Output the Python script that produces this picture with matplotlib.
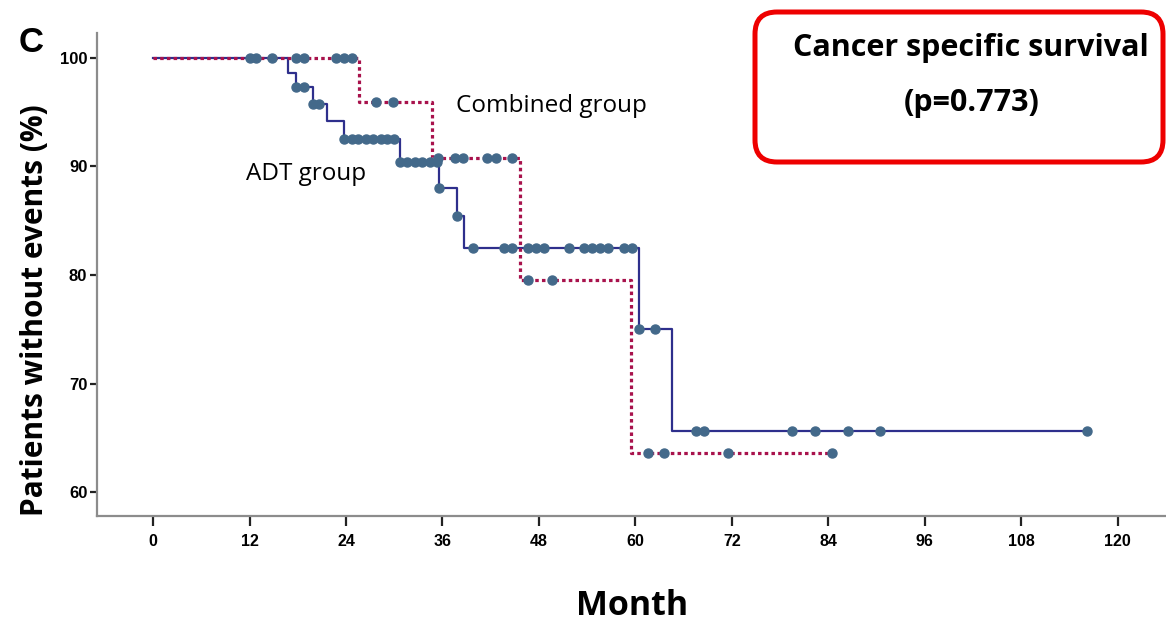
#!/usr/bin/env python3
"""
km_css.py - Kaplan-Meier curves for cancer specific survival,
ADT group versus combined group, with censoring marks.
"""

import numpy as np
import matplotlib
matplotlib.use("Agg")
import matplotlib.pyplot as plt
from matplotlib.patches import FancyBboxPatch


# ADT group: event times (months) and survival (%) after each step
ADT_TIME = [0, 16.85, 17.8, 19.9, 21.7, 23.8, 30.7, 35.6, 37.8, 38.7, 60.5, 64.5]
ADT_SURV = [100, 98.6, 97.3, 95.8, 94.2, 92.5, 90.4, 88.0, 85.4, 82.5, 75.0, 65.6]
ADT_END = 116.2
ADT_CENSORED = [
    12.0, 14.8, 17.8, 18.8, 19.9, 20.7,
    23.8, 24.7, 25.5, 26.5, 27.4, 28.3, 29.1, 30.0,
    30.7, 31.6, 32.6, 33.5, 34.4, 35.3, 35.6, 37.8,
    39.8, 43.7, 44.7, 46.6, 47.6, 48.6, 51.7, 53.6, 54.6, 55.6, 56.6, 58.6, 59.6,
    60.5, 62.5, 67.5, 68.5, 79.5, 82.4, 86.4, 90.4, 116.2,
]

# Combined group
COMB_TIME = [0, 25.6, 34.7, 45.7, 59.5]
COMB_SURV = [100, 95.9, 90.8, 79.5, 63.6]
COMB_END = 84.4
COMB_CENSORED = [
    12.8, 17.8, 18.8, 22.7, 23.8, 24.8,
    27.7, 29.8,
    35.5, 37.6, 38.6, 41.6, 42.6, 44.7,
    46.6, 49.6,
    61.6, 63.6, 71.5, 84.4,
]

X_TICKS = list(range(0, 121, 12))
Y_TICKS = [60, 70, 80, 90, 100]

NAVY = "#2e2f8c"
CRIMSON = "#a8124c"
MARK = "#43698a"


def surv_at(times: list[float], surv: list[float], t: np.ndarray) -> np.ndarray:
    """Value of the step curve at times t (right-continuous)."""
    idx = np.searchsorted(np.asarray(times), t, side="right") - 1
    return np.asarray(surv)[idx]


def draw_curve(ax, times, surv, end, **line_kw) -> None:
    x = list(times) + [end]
    y = list(surv) + [surv[-1]]
    ax.step(x, y, where="post", **line_kw)


def draw_marks(ax, times, surv, censored) -> None:
    t = np.asarray(censored)
    ax.plot(t, surv_at(times, surv, t), "o", color=MARK, ms=6.5,
            mec=MARK, zorder=5)


def main() -> None:
    fig = plt.figure(figsize=(11.66, 6.29), dpi=100)
    ax = fig.add_axes([97 / 1166, 113 / 629, 1069 / 1166, 483 / 629])

    draw_curve(ax, ADT_TIME, ADT_SURV, ADT_END, color=NAVY, lw=1.6, zorder=3)
    draw_curve(ax, COMB_TIME, COMB_SURV, COMB_END, color=CRIMSON, lw=2.3,
               linestyle=(0, (1.1, 1.0)), zorder=4)
    draw_marks(ax, ADT_TIME, ADT_SURV, ADT_CENSORED)
    draw_marks(ax, COMB_TIME, COMB_SURV, COMB_CENSORED)

    ax.set_xlim(-6.97, 126.0)
    ax.set_ylim(57.79, 102.3)

    for side in ("top", "right"):
        ax.spines[side].set_visible(False)
    for side in ("left", "bottom"):
        ax.spines[side].set_color("#8c8c8c")
        ax.spines[side].set_linewidth(1.6)

    ax.set_xticks(X_TICKS)
    ax.set_yticks(Y_TICKS)
    ax.tick_params(axis="x", length=7, width=1.6, color="#222222", pad=6)
    ax.tick_params(axis="y", length=5, width=1.6, color="#222222", pad=2)
    for lab in ax.get_xticklabels():
        lab.set_family("Liberation Sans")
        lab.set_fontweight("bold")
        lab.set_fontsize(11.5)
    for lab in ax.get_yticklabels():
        lab.set_family("Liberation Sans")
        lab.set_fontweight("bold")
        lab.set_fontsize(12)

    ax.text(49.6, 95.6, "Combined group", ha="center", va="center",
            fontsize=17.5, family="Open Sans")
    ax.text(19.0, 89.3, "ADT group", ha="center", va="center",
            fontsize=17.5, family="Open Sans")

    fig.text(0.030, 0.507, "Patients without events (%)", rotation=90,
             ha="center", va="center", fontsize=21.5, fontweight="bold",
             family="Open Sans")
    fig.text(0.542, 0.036, "Month", ha="center", va="center",
             fontsize=24.5, fontweight="bold", family="Open Sans")
    fig.text(0.0266, 0.933, "C", ha="center", va="center",
             fontsize=25, fontweight="bold", family="Liberation Sans")

    # rounded red box with the title and p-value (display pixels)
    box = FancyBboxPatch((755, 467), 408, 150,
                         boxstyle="round,pad=0,rounding_size=22",
                         transform=None, fill=False, edgecolor="#ee0000",
                         linewidth=3.6)
    fig.add_artist(box)
    fig.text(0.8328, 0.9237, "Cancer specific survival", ha="center",
             va="center", fontsize=22, fontweight="bold", family="Open Sans")
    fig.text(0.8336, 0.8362, "(p=0.773)", ha="center", va="center",
             fontsize=22, fontweight="bold", family="Open Sans")

    fig.savefig("out.png", dpi=100)
    plt.close(fig)


if __name__ == "__main__":
    main()
